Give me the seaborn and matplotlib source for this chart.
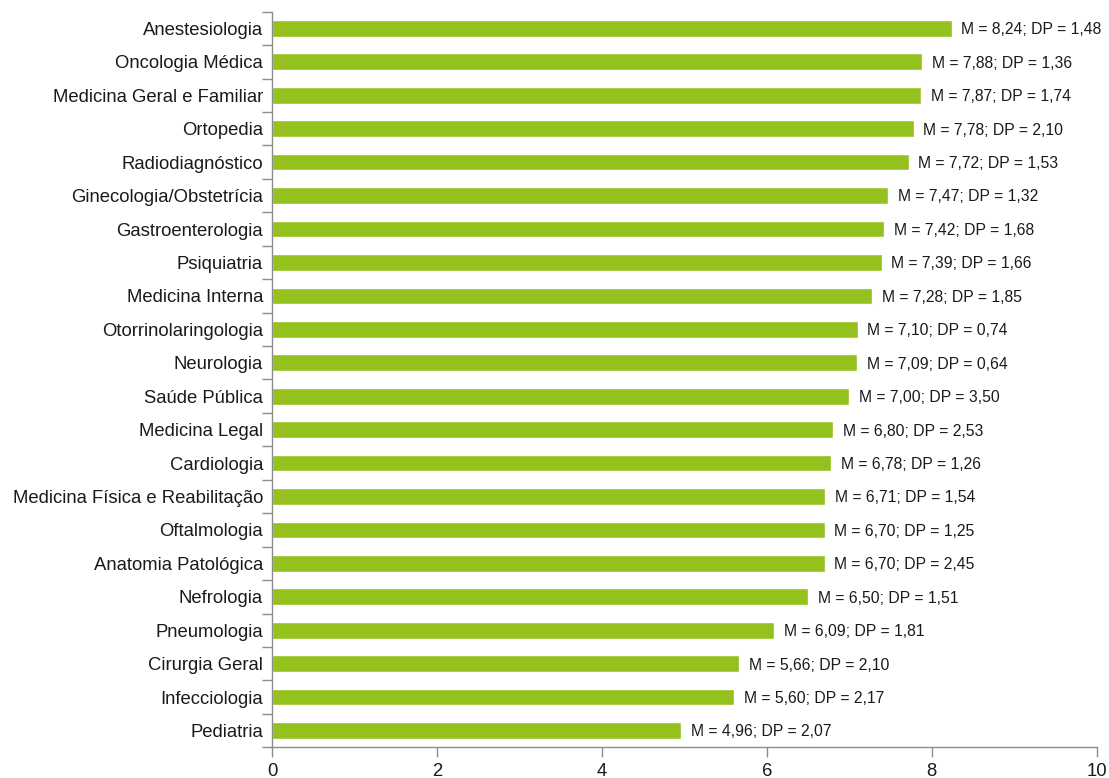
import numpy as np
import pandas as pd
import seaborn as sns
import matplotlib.pyplot as plt

specialties = [
    "Anestesiologia", "Oncologia Médica", "Medicina Geral e Familiar", "Ortopedia",
    "Radiodiagnóstico", "Ginecologia/Obstetrícia", "Gastroenterologia", "Psiquiatria",
    "Medicina Interna", "Otorrinolaringologia", "Neurologia", "Saúde Pública",
    "Medicina Legal", "Cardiologia", "Medicina Física e Reabilitação", "Oftalmologia",
    "Anatomia Patológica", "Nefrologia", "Pneumologia", "Cirurgia Geral",
    "Infecciologia", "Pediatria",
]
means = [8.24, 7.88, 7.87, 7.78, 7.72, 7.47, 7.42, 7.39, 7.28, 7.10, 7.09, 7.00,
         6.80, 6.78, 6.71, 6.70, 6.70, 6.50, 6.09, 5.66, 5.60, 4.96]
sds = [1.48, 1.36, 1.74, 2.10, 1.53, 1.32, 1.68, 1.66, 1.85, 0.74, 0.64, 3.50,
       2.53, 1.26, 1.54, 1.25, 2.45, 1.51, 1.81, 2.10, 2.17, 2.07]

BAR_COLOR = "#95c11f"
AXIS_COLOR = "#8c8c8c"

df = pd.DataFrame({"Especialidade": specialties, "M": means, "DP": sds})

sns.set_theme(style="white")
plt.rcParams["font.family"] = ["Liberation Sans", "DejaVu Sans"]

fig = plt.figure(figsize=(11.09, 7.78), dpi=100)
ax = fig.add_axes([0.2453, 0.0395, 0.7437, 0.9455])

sns.barplot(data=df, x="M", y="Especialidade", order=specialties, color=BAR_COLOR,
            width=0.5, saturation=1, orient="h", ax=ax)

for i, (m, sd) in enumerate(zip(means, sds)):
    txt = f"M = {m:.2f}; DP = {sd:.2f}".replace(".", ",")
    ax.annotate(txt, xy=(m, i), xytext=(7, -1), textcoords="offset points",
                va="center", ha="left", fontsize=11.3, color="#1a1a1a")

ax.set_xlim(0, 10)
ax.set_ylim(len(specialties) - 0.5, -0.5)
ax.set_xticks(np.arange(0, 11, 2))
ax.set_xlabel("")
ax.set_ylabel("")

for side in ["top", "right"]:
    ax.spines[side].set_visible(False)
for side in ["left", "bottom"]:
    ax.spines[side].set_color(AXIS_COLOR)
    ax.spines[side].set_linewidth(1.0)

# category boundary tick marks on the y axis
ax.set_yticks(np.arange(-0.5, len(specialties), 1.0), minor=True)
ax.tick_params(axis="y", which="major", length=0, labelsize=13.3, pad=6.5, labelcolor="#1a1a1a")
ax.tick_params(axis="y", which="minor", length=7, color=AXIS_COLOR, width=1, left=True)
ax.tick_params(axis="x", which="major", length=7, color=AXIS_COLOR, width=1, bottom=True,
               labelsize=13.3, pad=4, labelcolor="#1a1a1a")

fig.savefig("out.png", dpi=100)
